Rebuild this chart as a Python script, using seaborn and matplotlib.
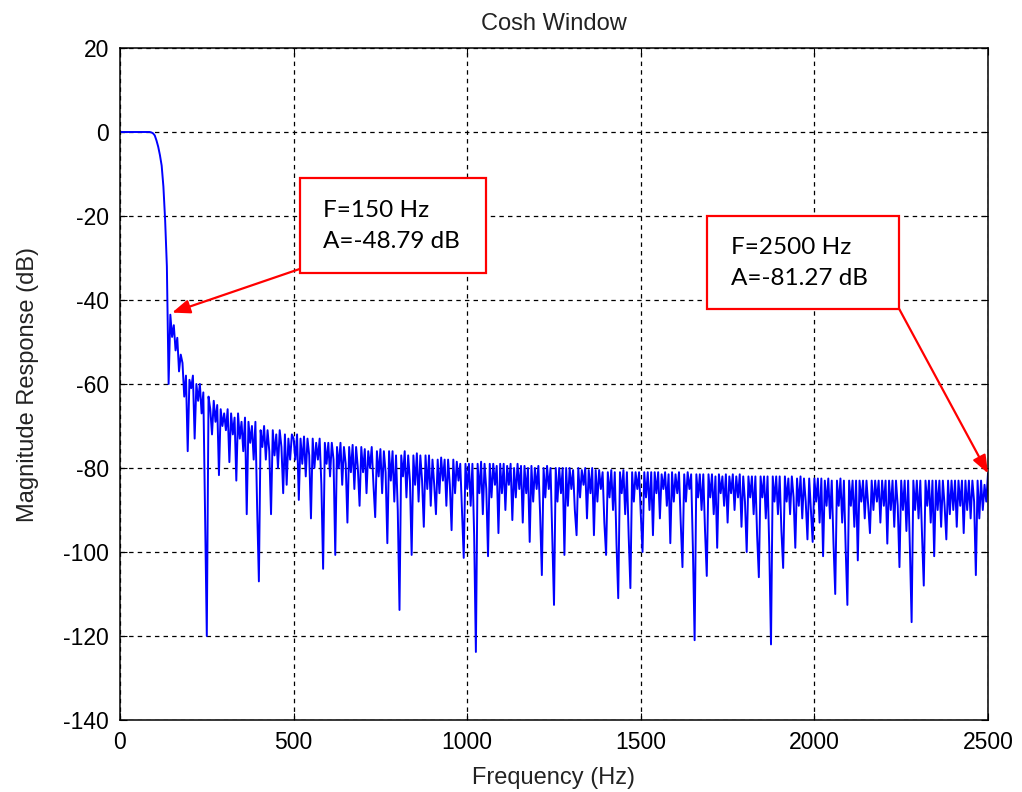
import numpy as np
import pandas as pd
import matplotlib
matplotlib.use("Agg")
import matplotlib.pyplot as plt
from matplotlib.patches import Rectangle
import seaborn as sns

# Magnitude response of the cosh-windowed low-pass FIR, sampled every 5 Hz (0 .. 2500 Hz)
freq_step_hz = 5
magnitude_db = [
    # 0 - 95 Hz
    0, 0, 0, 0, 0, 0, 0, 0, 0, 0, 0, 0, 0, 0, 0, 0, 0, 0, -0.1, -0.3,
    # 100 - 195 Hz
    -0.8, -2.0, -3.5, -5.5, -8.0, -13, -21, -32, -60, -43.5, -48.79, -46, -52, -49, -57, -53, -55, -63, -58, -76,
    # 200 - 295 Hz
    -59, -61, -58, -73, -60, -64, -60, -67, -62, -91.7, -120, -63, -66, -72, -64, -69, -65, -81.7, -66, -70,
    # 300 - 395 Hz
    -67, -71, -66, -78.6, -67, -72, -68, -83, -67, -73, -69, -76, -68, -91, -69, -74, -70, -78, -69, -89.5,
    # 400 - 495 Hz
    -107, -71, -75, -70, -78, -71, -76, -91, -71, -77, -72, -80, -71, -75, -86, -72, -84, -73, -78, -72,
    # 500 - 595 Hz
    -73, -78, -72, -87.6, -73, -79, -72.5, -82, -73, -77, -92, -73, -80, -74, -78, -73, -84, -104, -74, -79,
    # 600 - 695 Hz
    -74, -82, -74, -78, -100.7, -75, -80, -74, -84, -75, -79, -93, -75, -81, -74.5, -85, -75, -80, -89, -75,
    # 700 - 795 Hz
    -81, -75.5, -86, -76, -80, -75, -84, -91.7, -76, -82, -75.5, -86, -76, -81, -97.9, -76, -83, -76, -88, -77,
    # 800 - 895 Hz
    -90, -113.8, -77, -82, -76, -87, -77, -83, -100.7, -77, -84, -76.5, -88, -77, -83, -94, -77, -85, -77, -89,
    # 900 - 995 Hz
    -78, -84, -91, -78, -86, -77.5, -83, -78, -89, -78, -84, -94.8, -78, -86, -78.5, -83, -79, -90, -101.4, -79,
    # 1000 - 1095 Hz
    -85, -79, -89, -79, -96, -123.8, -79, -86, -78.5, -91, -79, -85, -101, -79, -87, -79, -84, -79.5, -95.5, -79,
    # 1100 - 1195 Hz
    -86, -79, -90, -79.5, -84, -79, -92.4, -80, -87, -79, -85, -79.5, -93, -79.5, -86, -80, -97.6, -79.5, -88, -80,
    # 1200 - 1295 Hz
    -85, -79.5, -91, -105.5, -80, -87, -79.5, -85, -80, -96, -112.6, -80, -88, -80, -86, -80, -100.7, -80, -89, -80,
    # 1300 - 1395 Hz
    -85, -80.5, -90, -96, -80, -87, -80.5, -84, -80, -92, -80.5, -86, -80, -96, -80.5, -88, -80.5, -85, -81, -93,
    # 1400 - 1495 Hz
    -100.7, -81, -87, -80.5, -90, -81, -98, -111, -81, -86, -80.5, -91, -81, -96, -108.6, -81, -88, -81, -85, -81,
    # 1500 - 1595 Hz
    -91, -100, -81, -87, -81, -90, -81, -96, -81, -86, -81, -92, -81.5, -85, -81, -89, -81.5, -97.9, -81, -88,
    # 1600 - 1695 Hz
    -81.5, -86, -81, -93, -103.6, -81.5, -88, -81, -85, -81.5, -99, -121, -81.5, -87, -81.5, -90, -81.5, -95, -105.7, -81.5,
    # 1700 - 1795 Hz
    -87, -81.5, -91, -82, -99, -81.5, -86, -82, -89, -81.5, -93, -82, -86, -81.5, -90, -82, -87, -81.5, -94, -82,
    # 1800 - 1895 Hz
    -88, -100, -82, -87, -82, -91, -82, -96, -106, -82, -87, -82, -92, -82, -99, -122, -82, -88, -82, -91,
    # 1900 - 1995 Hz
    -82, -95, -103.8, -82, -88, -82.5, -91, -82, -87, -99, -82.5, -89, -82, -92, -82.5, -88, -97, -82.5, -90, -97.6,
    # 2000 - 2095 Hz
    -82.5, -88, -82.5, -93, -82.5, -101, -83, -89, -82.5, -92, -83, -98, -110, -83, -89, -82.5, -93, -83, -99, -112.6,
    # 2100 - 2195 Hz
    -83, -89, -83, -94, -83, -102, -83, -88, -83, -92, -83, -89, -95.5, -83, -90, -83, -88, -83, -93, -83,
    # 2200 - 2295 Hz
    -89, -83, -98, -83, -90, -83, -94, -83, -89, -103.6, -83, -90, -83, -95, -83, -99, -116.7, -83, -90, -83,
    # 2300 - 2395 Hz
    -92, -83, -96, -108, -83, -89, -83, -93, -83, -101, -83, -90, -83, -94, -83, -89, -97, -83, -91, -83,
    # 2400 - 2500 Hz
    -90, -83, -94, -83, -89, -83, -95.5, -83, -90, -83, -92, -83, -88, -105.5, -83, -92, -83, -90, -84, -88, -81.27,
]
frequency_hz = [i * freq_step_hz for i in range(len(magnitude_db))]

# Marked points
marker_freq_hz = [150, 2500]
marker_db = [-48.79, -81.27]
marker_labels = ["F=150 Hz\nA=-48.79 dB", "F=2500 Hz\nA=-81.27 dB"]

x_ticks = [0, 500, 1000, 1500, 2000, 2500]
y_ticks = [20, 0, -20, -40, -60, -80, -100, -120, -140]

df = pd.DataFrame({"Frequency (Hz)": frequency_hz, "Magnitude Response (dB)": magnitude_db})

sns.set_theme(style="white")
plt.rcParams["font.family"] = ["Liberation Sans", "DejaVu Sans"]
plt.rcParams["lines.scale_dashes"] = False
plt.rcParams["axes.unicode_minus"] = False

fig = plt.figure(figsize=(10.22, 7.92), dpi=100)
ax = fig.add_axes([120 / 1022, 1 - 720 / 792, 868 / 1022, 672 / 792])

sns.lineplot(data=df, x="Frequency (Hz)", y="Magnitude Response (dB)", ax=ax,
             color="#0000ff", linewidth=1.4, estimator=None, sort=False)

ax.set_xlim(0, 2500)
ax.set_ylim(-140, 20)
ax.set_xticks(x_ticks)
ax.set_yticks(y_ticks)
ax.grid(True, color="black", linestyle=(0, (3.2, 3.0)), linewidth=0.9)
for s in ax.spines.values():
    s.set_color("black")
    s.set_linewidth(1.1)
ax.tick_params(direction="in", length=5, width=0.8, color="black",
               labelsize=16.5, pad=8, top=True, right=True,
               bottom=True, left=True, labelcolor="black")
ax.set_title("Cosh Window", fontsize=17, pad=13, color="#222222")
ax.set_xlabel("Frequency (Hz)", fontsize=17, labelpad=9, color="#222222")
ax.set_ylabel("Magnitude Response (dB)", fontsize=17, labelpad=17, color="#222222")

# Callout boxes with arrows to the marked points
box_specs = [
    # (x0, x1, y_top, y_bottom, text_x, tail)
    (518, 1054, -11.0, -33.6, 584, (518, -32.6)),
    (1690, 2244, -20.0, -42.1, 1760, (2244, -42.1)),
]
tips = [(150, -43.0), (2500, -81.27)]
for (x0, x1, yt, yb, tx, tail), label, tip in zip(box_specs, marker_labels, tips):
    ax.add_patch(Rectangle((x0, yb), x1 - x0, yt - yb, fill=True, facecolor="white",
                           edgecolor="red", linewidth=1.6, zorder=5))
    ax.text(tx, (yt + yb) / 2 - 0.1, label, fontsize=17.5, family=["Lato", "DejaVu Sans"],
            ha="left", va="center", linespacing=1.6, zorder=6, color="black")
    ax.annotate("", xy=tip, xytext=tail,
                arrowprops=dict(arrowstyle="-|>,head_length=0.9,head_width=0.35",
                                color="red", lw=1.6, shrinkA=0, shrinkB=0),
                zorder=6, annotation_clip=False)

fig.savefig("out.png", dpi=100, facecolor="white")
